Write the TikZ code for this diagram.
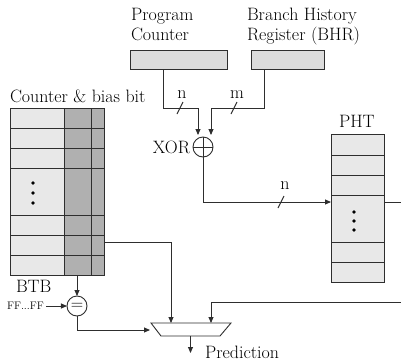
\documentclass[tikz,border=0pt]{standalone}
\usetikzlibrary{arrows.meta}
\definecolor{lightfill}{HTML}{E8E8E8}
\definecolor{boxfill}{HTML}{DCDCDC}
\definecolor{darkfill}{HTML}{B0B0B0}
\definecolor{linecol}{HTML}{2E2E2E}
\begin{document}
\begin{tikzpicture}[x=1bp,y=-1bp,
  every node/.style={inner sep=0pt, outer sep=0pt, font=\fontsize{18}{20}\selectfont},
  wire/.style={draw=linecol, line width=0.9bp},
  arr/.style={wire, -{Triangle[length=6bp,width=5bp]}},
  regbox/.style={draw=linecol, line width=0.9bp, fill=boxfill, minimum height=19bp},
  tablebox/.style={draw=linecol, line width=0.9bp, fill=lightfill},
  gate/.style={circle, draw=linecol, line width=0.9bp, fill=white, minimum size=20bp}
]
\useasboundingbox (0,0) rectangle (401,361);

% registers
\node[regbox, minimum width=97bp] (pc) at (178.5,59.5) {};
\node[regbox, minimum width=73bp] (bhr) at (287.5,59.5) {};
\node[anchor=north west, align=left] (pclbl) at (131,8.7) {Program\\Counter};
\node[anchor=north west, align=left] (bhrlbl) at (247,8.5) {Branch History\\Register (BHR)};

% XOR
\node[gate] (xor) at (203,147) {};
\draw[linecol, line width=0.9bp] (xor.north) -- (xor.south) (xor.west) -- (xor.east);
\node[anchor=base east] (xorlbl) at (190,153) {XOR};

% BTB table
\node[tablebox, minimum width=94bp, minimum height=167bp] (btb) at (57,191.5) {};
\fill[darkfill] (64,108) rectangle (104,275);
\foreach \yy in {128,148,168,215,235,255}
  \draw[linecol, line width=0.9bp] (10,\yy) -- (104,\yy);
\draw[linecol, line width=0.9bp] (64,108) -- (64,275) (91,108) -- (91,275);
\draw[linecol, line width=0.9bp] (btb.south west) rectangle (btb.north east);
\foreach \yy in {183,193,203} \fill (33,\yy) circle (1.8bp);
\node[anchor=base west] (btbtop) at (10,102) {Counter \& bias bit};
\node[anchor=base west] (btblbl) at (16,292) {BTB};

% PHT table
\node[tablebox, minimum width=53bp, minimum height=148bp] (pht) at (357.5,208) {};
\foreach \yy in {155,175,195,242,262}
  \draw[linecol, line width=0.9bp] (331,\yy) -- (384,\yy);
\foreach \yy in {212,221,230} \fill (354,\yy) circle (1.8bp);
\node[anchor=base west] (phtlbl) at (339,127) {PHT};

% equality comparator
\node[gate] (eq) at (77,306) {$=$};
\node[anchor=west, font=\fontsize{11}{13}\selectfont] (ff) at (7,306) {FF...FF};

% mux
\coordinate (m1) at (151,323);
\coordinate (m2) at (231,323);
\coordinate (m3) at (220,336);
\coordinate (m4) at (161,336);
\draw[wire, fill=white] (m1) -- (m2) -- (m3) -- (m4) -- cycle;
\node[anchor=base west] (pred) at (205,358) {Prediction};

% coordinates
\coordinate (pcx) at (163,0);
\coordinate (bhrx) at (264,0);
\coordinate (xin1) at (198,135);
\coordinate (xin2) at (211,135);
\coordinate (phtin) at (331,202);
\coordinate (btbout) at (104,242);
\coordinate (muxin1) at (171,323);
\coordinate (muxin0) at (150,330);
\coordinate (muxin2) at (211,323);
\coordinate (phtout) at (384,202);
\coordinate (edge1) at (401,202);
\coordinate (edge2) at (401,302);
\coordinate (muxout) at (190.5,336);
\coordinate (predend) at (190.5,353);

% connectors
\draw[arr] (pc.south -| pcx) -- (163,108) -| (xin1);
\draw[arr] (bhr.south -| bhrx) -- (264,108) -| (xin2);
\draw[arr] (xor.south) |- (phtin);
\draw[wire] (phtout) -- (edge1);
\draw[arr] (btbout) -| (muxin1);
\draw[arr] (edge2) -| (muxin2);
\draw[arr] (btb.south -| eq) -- (eq.north);
\draw[arr, shorten <=2bp] (ff.east) -- (eq.west);
\draw[arr] (eq.south) |- (muxin0);
\draw[arr] (muxout) -- (predend);

% bus width slashes and labels
\draw[wire] (177,114) -- (183,102);
\draw[wire] (231,114) -- (237,102);
\draw[wire] (278,208) -- (284,196);
\node[anchor=base] (nlbl1) at (182,98) {n};
\node[anchor=base] (mlbl) at (237,98) {m};
\node[anchor=base] (nlbl2) at (285,189) {n};
\end{tikzpicture}
\end{document}
